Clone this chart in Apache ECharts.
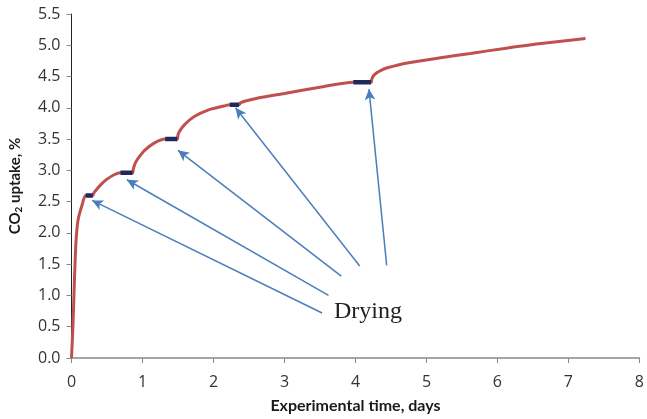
<!DOCTYPE html>
<html>
<head>
<meta charset="utf-8">
<script src="https://cdn.jsdelivr.net/npm/echarts@6/dist/echarts.min.js"></script>
<style>html,body{margin:0;padding:0;background:#fff}#c{width:647px;height:419px}</style>
</head>
<body>
<div id="c"></div>
<script>
// CO2 uptake curve (days, %)
const timeDays = [0, 0.02, 0.04, 0.06, 0.08, 0.1, 0.15, 0.2, 0.3, 0.31, 0.35, 0.42, 0.5, 0.6, 0.69, 0.86, 0.87, 0.9, 0.95, 1.03, 1.17, 1.32, 1.49, 1.5, 1.53, 1.6, 1.73, 1.94, 2.15, 2.23, 2.36, 2.38, 2.45, 2.6, 3.0, 3.5, 3.97, 4.22, 4.23, 4.26, 4.3, 4.36, 4.45, 4.69, 5.2, 5.62, 6.1, 6.55, 7.24];
const uptake   = [0, 0.5, 1.2, 1.8, 2.1, 2.25, 2.45, 2.6, 2.6, 2.63, 2.69, 2.78, 2.86, 2.93, 2.96, 2.96, 3.02, 3.12, 3.21, 3.32, 3.44, 3.5, 3.5, 3.57, 3.64, 3.74, 3.86, 3.97, 4.03, 4.05, 4.05, 4.08, 4.11, 4.15, 4.23, 4.33, 4.41, 4.41, 4.46, 4.52, 4.56, 4.6, 4.64, 4.71, 4.8, 4.87, 4.95, 5.02, 5.11];
// drying periods: start day, end day, uptake level
const dryStart = [0.2, 0.69, 1.32, 2.23, 3.97];
const dryEnd   = [0.3, 0.86, 1.49, 2.36, 4.22];
const dryLevel = [2.6, 2.96, 3.5, 4.05, 4.41];
// annotation arrows (tail near label -> head at drying period), data coords
const arrowTailX = [3.53, 3.62, 3.80, 4.06, 4.44];
const arrowTailY = [0.72, 1.00, 1.31, 1.47, 1.48];
const arrowHeadX = [0.29, 0.78, 1.50, 2.31, 4.19];
const arrowHeadY = [2.52, 2.85, 3.32, 4.00, 4.30];
const xTicks = [0, 1, 2, 3, 4, 5, 6, 7, 8];
const yTicks = [0, 0.5, 1, 1.5, 2, 2.5, 3, 3.5, 4, 4.5, 5, 5.5];
const annotationText = 'Drying';

const chart = echarts.init(document.getElementById('c'), null, {renderer: 'canvas'});
const font = '"Open Sans", Lato, sans-serif';
const nameFont = 'Lato, "Open Sans", sans-serif';
const series = [{
  type: 'line',
  data: timeDays.map((t, i) => [t, uptake[i]]),
  showSymbol: false,
  smooth: 0.25,
  lineStyle: {color: '#C0504D', width: 3},
  z: 2
}];
dryStart.forEach((s, i) => {
  series.push({
    type: 'line',
    data: [[s, dryLevel[i]], [dryEnd[i], dryLevel[i]]],
    showSymbol: false,
    lineStyle: {color: '#1F2A5C', width: 4.5, cap: 'butt'},
    z: 3
  });
});
series.push({
  type: 'line',
  data: [],
  markLine: {
    silent: true,
    symbol: ['none', 'arrow'],
    symbolSize: [8, 11],
    label: {show: false},
    lineStyle: {color: '#4A7EBB', width: 1.5, type: 'solid'},
    data: arrowTailX.map((x, i) => [
      {coord: [x, arrowTailY[i]]},
      {coord: [arrowHeadX[i], arrowHeadY[i]]}
    ])
  },
  z: 4
});
chart.setOption({
  animation: false,
  grid: {left: 71.5, right: 4, top: 14, bottom: 60},
  xAxis: {
    type: 'value', min: xTicks[0], max: xTicks[xTicks.length - 1], interval: 1,
    name: 'Experimental time, days', nameLocation: 'middle', nameGap: 40,
    nameTextStyle: {fontFamily: nameFont, fontWeight: 'bold', fontSize: 16, color: '#1a1a1a'},
    axisLine: {lineStyle: {color: '#888', width: 1.5}},
    axisTick: {lineStyle: {color: '#888'}, length: 5},
    axisLabel: {fontFamily: font, fontSize: 16, color: '#333', margin: 16},
    splitLine: {show: false}
  },
  yAxis: {
    type: 'value', min: yTicks[0], max: yTicks[yTicks.length - 1], interval: 0.5,
    name: '{b|CO}{s|2}{b| uptake, %}', nameLocation: 'middle', nameGap: 48,
    nameTextStyle: {
      fontFamily: nameFont, fontWeight: 'bold', fontSize: 15, color: '#1a1a1a',
      rich: {
        b: {fontFamily: nameFont, fontWeight: 'bold', fontSize: 15, color: '#1a1a1a'},
        s: {fontFamily: nameFont, fontWeight: 'bold', fontSize: 10, color: '#1a1a1a', verticalAlign: 'bottom', padding: [6, 0, 0, 0]}
      }
    },
    axisLine: {show: true, lineStyle: {color: '#222', width: 1}},
    axisTick: {show: true, inside: false, length: 5, lineStyle: {color: '#888'}},
    axisLabel: {fontFamily: font, fontSize: 16, color: '#333', margin: 11, formatter: v => v.toFixed(1)},
    splitLine: {show: false}
  },
  graphic: [{
    type: 'text', left: 334, top: 300,
    style: {text: annotationText, font: '24px "Liberation Serif", "DejaVu Serif", serif', fill: '#222'}
  }],
  series: series
});
</script>
</body>
</html>
